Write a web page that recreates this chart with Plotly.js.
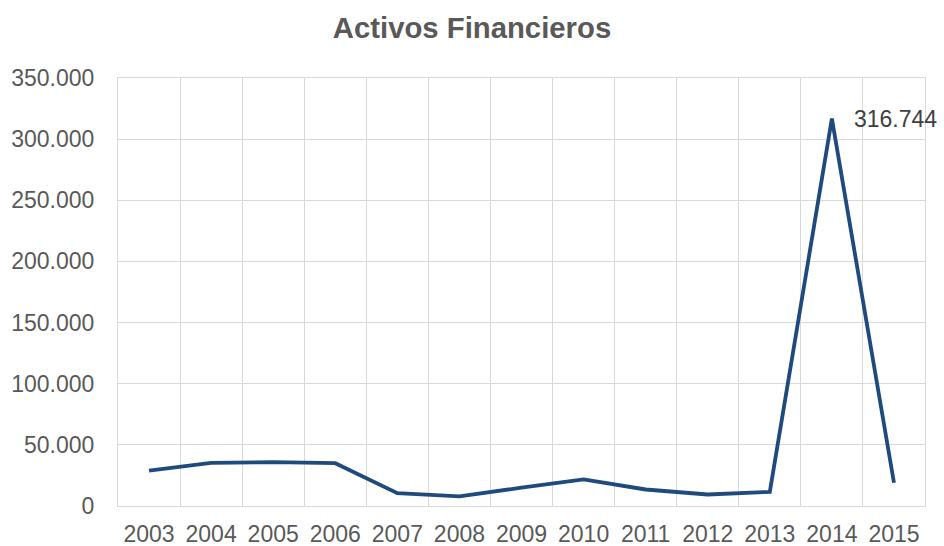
<!DOCTYPE html>
<html>
<head>
<meta charset="utf-8">
<script src="https://cdn.plot.ly/plotly-3.0.1.min.js"></script>
<style>html,body{margin:0;padding:0;background:#fff;}#chart{width:944px;height:546px;}</style>
</head>
<body>
<div id="chart"></div>
<script>
const years = ["2003","2004","2005","2006","2007","2008","2009","2010","2011","2012","2013","2014","2015"];
const activos = [29000, 35300, 35800, 35000, 10500, 7800, 15000, 21700, 13500, 9400, 11600, 316744, 19000];
const yTickVals = [0, 50000, 100000, 150000, 200000, 250000, 300000, 350000];
const chartTitle = "Activos Financieros";
const labelIndex = 11;

function fmt(v){ return String(v).replace(/\B(?=(\d{3})+(?!\d))/g, "."); }

const gridColor = "#D9D9D9";
const textColor = "#595959";
const font = "Liberation Sans, Arial, sans-serif";

const trace = {
  x: years,
  y: activos,
  type: "scatter",
  mode: "lines",
  line: {color: "#1F4A7E", width: 3.8},
  hoverinfo: "x+y"
};

const layout = {
  width: 944, height: 546,
  margin: {l: 118, r: 19, t: 78, b: 39.5},
  paper_bgcolor: "#fff", plot_bgcolor: "#fff",
  separators: ",.",
  showlegend: false,
  title: {text: chartTitle, x: 0.5, xanchor: "center", y: 0.949, yanchor: "middle",
          font: {family: font, size: 29.3, color: textColor, weight: "bold"}},
  xaxis: {
    type: "category",
    range: [-0.5, years.length - 0.5],
    tickson: "boundaries",
    showgrid: true, gridcolor: gridColor, gridwidth: 1,
    showline: true, mirror: true, linecolor: gridColor, linewidth: 1,
    ticks: "", zeroline: false,
    tickfont: {family: font, size: 23, color: textColor},
    ticklabelstandoff: 7
  },
  yaxis: {
    range: [0, 350000],
    tickvals: yTickVals,
    ticktext: yTickVals.map(fmt),
    showgrid: true, gridcolor: gridColor, gridwidth: 1,
    showline: true, mirror: true, linecolor: gridColor, linewidth: 1,
    zeroline: false, ticks: "",
    tickfont: {family: font, size: 23, color: textColor},
    ticklabelstandoff: 18
  },
  annotations: [{
    x: labelIndex, y: activos[labelIndex], xref: "x", yref: "y",
    text: fmt(activos[labelIndex]), showarrow: false,
    xanchor: "left", yanchor: "middle", xshift: 20,
    font: {family: font, size: 23, color: "#404040"}
  }]
};

Plotly.newPlot("chart", [trace], layout, {displayModeBar: false, staticPlot: true});
</script>
</body>
</html>
